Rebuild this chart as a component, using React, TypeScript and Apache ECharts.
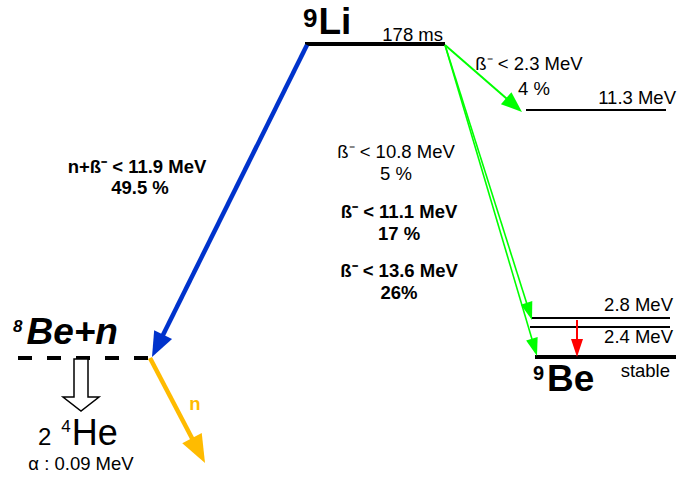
import React, { useEffect, useRef } from "react";
import * as echarts from "echarts";

// Diagram coordinates: x 0–678 (right), y 0–477 (down)

// Energy levels
const levelNames = ["9Li", "11.3 MeV", "2.8 MeV", "2.4 MeV", "9Be", "8Be+n"];
const levelStart = [305, 526, 532, 530, 535, 18];
const levelEnd = [445, 666, 670, 670, 676, 148];
const levelY = [44, 110, 318, 327, 357, 358];

// Transitions (arrows)
const transitionNames = ["n+β-", "β- 2.3", "β- 10.8", "β- 13.6", "γ", "n"];
const transFromX = [307, 445, 445, 445, 577, 150];
const transFromY = [45, 45, 45, 45, 320, 358];
const transToX = [152, 522, 532, 537, 577, 205];
const transToY = [357, 112, 320, 356, 357, 463];

// 8Be -> 2 4He breakup (hollow arrow)
const breakupX = [81];
const breakupTop = [359];
const breakupTip = [411];

// Text labels
const labelTexts = [
  "178 ms",
  "11.3 MeV",
  "ß⁻ < 2.3 MeV",
  "4 %",
  "n+ß⁻ < 11.9 MeV",
  "49.5 %",
  "ß⁻ < 10.8 MeV",
  "5 %",
  "ß⁻ < 11.1 MeV",
  "17 %",
  "ß⁻ < 13.6 MeV",
  "26%",
  "2.8 MeV",
  "2.4 MeV",
  "stable",
  "n",
  "α : 0.09 MeV",
];
const labelX = [443, 676, 529, 534, 137, 140, 396, 396, 399, 399, 399, 399, 673, 673, 670, 195, 81];
const labelY = [34, 97, 63, 88, 166, 187, 151, 173, 211, 233, 270, 292, 304, 336, 370, 403, 463];

// Nuclide names (big text with superscript mass number); y = baseline
const nuclideMass = ["9", "8", "4", "9"];
const nuclideSymbol = ["Li", "Be+n", "He", "Be"];
const nuclidePrefix = ["", "", "2", ""];
const nuclideX = [303, 13, 38, 533];
const nuclideY = [35, 345, 445, 392];

const FONT = "'Liberation Sans', Arial, Helvetica, sans-serif";

const levelStyle = [
  { w: 4, dash: null },
  { w: 2, dash: null },
  { w: 2, dash: null },
  { w: 2, dash: null },
  { w: 4, dash: null },
  { w: 4, dash: [14, 15] },
];
const GREEN = "#00ff00";
const transStyle = [
  { color: "#0033cc", w: 4.5, L: 25, W: 20 },
  { color: GREEN, w: 2, L: 21, W: 16 },
  { color: GREEN, w: 1.6, L: 18, W: 12 },
  { color: GREEN, w: 1.6, L: 18, W: 12 },
  { color: "#ff0000", w: 2, L: 18, W: 12 },
  { color: "#ffbb00", w: 4.5, L: 28, W: 22 },
];
const S = 18.5;
const labelStyle = [
  { size: S, weight: "normal", align: "right", color: "#000" },
  { size: S, weight: "normal", align: "right", color: "#000" },
  { size: S, weight: "normal", align: "center", color: "#000" },
  { size: S, weight: "normal", align: "center", color: "#000" },
  { size: S, weight: "bold", align: "center", color: "#000" },
  { size: S, weight: "bold", align: "center", color: "#000" },
  { size: S, weight: "normal", align: "center", color: "#000" },
  { size: S, weight: "normal", align: "center", color: "#000" },
  { size: S, weight: "bold", align: "center", color: "#000" },
  { size: S, weight: "bold", align: "center", color: "#000" },
  { size: S, weight: "bold", align: "center", color: "#000" },
  { size: S, weight: "bold", align: "center", color: "#000" },
  { size: S, weight: "normal", align: "right", color: "#000" },
  { size: S, weight: "normal", align: "right", color: "#000" },
  { size: S, weight: "normal", align: "right", color: "#000" },
  { size: S, weight: "bold", align: "center", color: "#ffbb00" },
  { size: S, weight: "normal", align: "center", color: "#000" },
];
const nuclideStyle = [
  { sup: 26, main: 37, weight: "bold", italic: false, supDy: -8, gap: 1 },
  { sup: 17, main: 37, weight: "bold", italic: true, supDy: -12, gap: 4 },
  { sup: 17, main: 36, weight: "normal", italic: false, supDy: -12, gap: 1, pre: 24, preGap: 10 },
  { sup: 20, main: 37, weight: "bold", italic: false, supDy: -12, gap: 3 },
];

export default function App() {
  const ref = useRef<HTMLDivElement>(null);

  useEffect(() => {
    if (!ref.current) return;
    const chart = echarts.init(ref.current, null, { renderer: "svg" });

    const levelData = levelNames.map((n, i) => ({
      name: n,
      value: [levelStart[i], levelY[i], levelEnd[i], levelY[i]],
    }));
    const transData = transitionNames.map((n, i) => ({
      name: n,
      value: [transFromX[i], transFromY[i], transToX[i], transToY[i]],
    }));
    const breakupData = breakupX.map((x, i) => [x, breakupTop[i], breakupTip[i]]);
    const labelData = labelTexts.map((t, i) => ({ name: t, value: [labelX[i], labelY[i]] }));
    const nuclideData = nuclideSymbol.map((s, i) => ({ name: s, value: [nuclideX[i], nuclideY[i]] }));

    const textAt = (x: number, baseline: number, text: string, size: number, weight: string, fontStyle: string) => ({
      type: "text",
      x,
      y: baseline - 0.355 * size,
      style: {
        text,
        fontFamily: FONT,
        fontSize: size,
        fontWeight: weight,
        fontStyle,
        fill: "#000",
        align: "left",
        verticalAlign: "middle",
      },
    });

    const option: any = {
      animation: false,
      grid: { left: 0, right: 0, top: 0, bottom: 0 },
      xAxis: { type: "value", min: 0, max: 678, show: false },
      yAxis: { type: "value", min: 0, max: 477, inverse: true, show: false },
      series: [
        {
          type: "custom",
          name: "levels",
          clip: false,
          data: levelData,
          encode: { x: [0, 2], y: [1, 3] },
          renderItem: (params: any, api: any) => {
            const i = params.dataIndex;
            const p1 = api.coord([api.value(0), api.value(1)]);
            const p2 = api.coord([api.value(2), api.value(3)]);
            const st = levelStyle[i];
            return {
              type: "line",
              shape: { x1: p1[0], y1: p1[1], x2: p2[0], y2: p2[1] },
              style: { stroke: "#000", lineWidth: st.w, lineDash: st.dash || undefined },
            };
          },
        },
        {
          type: "custom",
          name: "transitions",
          clip: false,
          data: transData,
          encode: { x: [0, 2], y: [1, 3] },
          renderItem: (params: any, api: any) => {
            const i = params.dataIndex;
            const p1 = api.coord([api.value(0), api.value(1)]);
            const p2 = api.coord([api.value(2), api.value(3)]);
            const st = transStyle[i];
            const dx = p2[0] - p1[0];
            const dy = p2[1] - p1[1];
            const len = Math.sqrt(dx * dx + dy * dy);
            const ux = dx / len;
            const uy = dy / len;
            const bx = p2[0] - ux * st.L;
            const by = p2[1] - uy * st.L;
            const px = -uy * (st.W / 2);
            const py = ux * (st.W / 2);
            return {
              type: "group",
              children: [
                {
                  type: "line",
                  shape: { x1: p1[0], y1: p1[1], x2: bx + ux * 2, y2: by + uy * 2 },
                  style: { stroke: st.color, lineWidth: st.w },
                },
                {
                  type: "polygon",
                  shape: { points: [[p2[0], p2[1]], [bx + px, by + py], [bx - px, by - py]] },
                  style: { fill: st.color },
                },
              ],
            };
          },
        },
        {
          type: "custom",
          name: "breakup",
          clip: false,
          data: breakupData,
          encode: { x: 0, y: [1, 2] },
          renderItem: (params: any, api: any) => {
            const top = api.coord([api.value(0), api.value(1)]);
            const tip = api.coord([api.value(0), api.value(2)]);
            const cx = top[0];
            const sh = 7;
            const hh = 18;
            const headBase = tip[1] - 14;
            return {
              type: "polygon",
              shape: {
                points: [
                  [cx - sh, top[1]],
                  [cx + sh, top[1]],
                  [cx + sh, headBase],
                  [cx + hh, headBase],
                  [cx, tip[1]],
                  [cx - hh, headBase],
                  [cx - sh, headBase],
                ],
              },
              style: { fill: "#fff", stroke: "#000", lineWidth: 1.5 },
            };
          },
        },
        {
          type: "custom",
          name: "labels",
          clip: false,
          data: labelData,
          encode: { x: 0, y: 1 },
          renderItem: (params: any, api: any) => {
            const i = params.dataIndex;
            const p = api.coord([api.value(0), api.value(1)]);
            const st = labelStyle[i];
            return {
              type: "text",
              x: p[0],
              y: p[1],
              style: {
                text: labelTexts[i],
                fontFamily: FONT,
                fontSize: st.size,
                fontWeight: st.weight,
                fill: st.color,
                align: st.align,
                verticalAlign: "middle",
              },
            };
          },
        },
        {
          type: "custom",
          name: "nuclides",
          clip: false,
          data: nuclideData,
          encode: { x: 0, y: 1 },
          renderItem: (params: any, api: any) => {
            const i = params.dataIndex;
            const p = api.coord([api.value(0), api.value(1)]);
            const st: any = nuclideStyle[i];
            const children: any[] = [];
            let x = p[0];
            const fontStyle = st.italic ? "italic" : "normal";
            if (nuclidePrefix[i]) {
              children.push(textAt(x, p[1], nuclidePrefix[i], st.pre, st.weight, "normal"));
              x += st.pre * 0.556 + st.preGap;
            }
            children.push(textAt(x, p[1] + st.supDy, nuclideMass[i], st.sup, st.weight, fontStyle));
            x += st.sup * 0.556 + st.gap;
            children.push(textAt(x, p[1], nuclideSymbol[i], st.main, st.weight, fontStyle));
            return { type: "group", children };
          },
        },
      ],
    };

    chart.setOption(option);
    return () => chart.dispose();
  }, []);

  return (
    <div
      ref={ref}
      style={{ position: "absolute", left: 0, top: 0, width: 678, height: 477, background: "#fff" }}
    />
  );
}
